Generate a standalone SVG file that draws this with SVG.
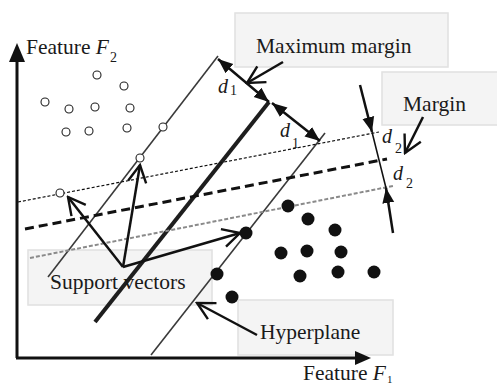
<svg xmlns="http://www.w3.org/2000/svg" width="497" height="386" viewBox="0 0 497 386">
<style>
.box{fill:#f4f4f4;stroke:#e0e0e0;stroke-width:1.5}
.lbl{font-family:"Liberation Serif","Times New Roman",serif;font-size:21.5px;fill:#1a1a1a}
.it{font-style:italic}
.sub{font-family:"Liberation Serif","Times New Roman",serif;font-size:14px;fill:#1a1a1a}
.sv{stroke:#3a3a3a;stroke-width:1.6;fill:none}
.open{fill:#fff;stroke:#222;stroke-width:1.1}
.dot{fill:#111}
.ann{stroke:#111;stroke-width:2.5;fill:none;marker-end:url(#openhead)}
.dim{stroke:#111;stroke-width:2.5;fill:none}
</style>
<defs>
<marker id="openhead" markerUnits="userSpaceOnUse" markerWidth="22" markerHeight="24" viewBox="-21 -12 23 24" refX="0" refY="0" orient="auto">
<path d="M-18,-9.5 L0,0 L-18,9.5" fill="none" stroke="#111" stroke-width="2.5"/>
</marker>
<marker id="fillhead" markerUnits="userSpaceOnUse" markerWidth="16" markerHeight="14" viewBox="-15 -7 16 14" refX="0" refY="0" orient="auto-start-reverse">
<path d="M-15,-6 L0,0 L-15,6 Z" fill="#111"/>
</marker>
</defs>
<rect width="497" height="386" fill="#fff"/>
<g id="label-boxes">
<rect class="box" x="235" y="13" width="213" height="54"/>
<rect class="box" x="382" y="72" width="122" height="53"/>
<rect class="box" x="28" y="250" width="184" height="55"/>
<rect class="box" x="238" y="300" width="155" height="55"/>
</g>
<g id="axes">
<line x1="17" y1="358" x2="17" y2="60" stroke="#111" stroke-width="3"/>
<polygon points="17,43 9,62 25,62" fill="#111"/>
<line x1="16" y1="358" x2="356" y2="358" stroke="#111" stroke-width="3"/>
<polygon points="371,358 355,351 355,365" fill="#111"/>
</g>
<g id="connectors">
<line class="sv" x1="218" y1="56" x2="48" y2="277"/>
<line x1="269" y1="102" x2="95" y2="322" stroke="#1e1e1e" stroke-width="4"/>
<line class="sv" x1="325" y1="133" x2="151" y2="355"/>
<line x1="18" y1="202" x2="379" y2="132" stroke="#111" stroke-width="1.2" stroke-dasharray="3 2"/>
<line x1="25" y1="229" x2="387" y2="159" stroke="#111" stroke-width="3" stroke-dasharray="9 5"/>
<line x1="30" y1="258" x2="393" y2="186" stroke="#8a8a8a" stroke-width="2" stroke-dasharray="4 2"/>
<line class="dim" x1="218" y1="59" x2="269" y2="102" marker-start="url(#fillhead)" marker-end="url(#fillhead)"/>
<line class="dim" x1="272" y1="103" x2="320" y2="141" marker-start="url(#fillhead)" marker-end="url(#fillhead)"/>
<line class="dim" x1="360" y1="85" x2="372" y2="132" marker-end="url(#fillhead)"/>
<line x1="372" y1="132" x2="386" y2="188" stroke="#111" stroke-width="1.6"/>
<line class="dim" x1="393" y1="233" x2="386" y2="188" marker-end="url(#fillhead)"/>
<line class="ann" x1="123" y1="267" x2="68" y2="197"/>
<line class="ann" x1="123" y1="267" x2="140" y2="165"/>
<line class="ann" x1="123" y1="267" x2="240" y2="233"/>
<line class="ann" x1="283" y1="62" x2="247" y2="83"/>
<line class="ann" x1="423" y1="117" x2="405" y2="153"/>
<line class="ann" x1="257" y1="335" x2="197" y2="303"/>
</g>
<g id="class-open">
<circle class="open" cx="97" cy="75" r="4"/>
<circle class="open" cx="124" cy="86" r="4"/>
<circle class="open" cx="45" cy="102" r="4"/>
<circle class="open" cx="69" cy="109" r="4"/>
<circle class="open" cx="95" cy="107" r="4"/>
<circle class="open" cx="130" cy="108" r="4"/>
<circle class="open" cx="66" cy="132" r="4"/>
<circle class="open" cx="89" cy="131" r="4"/>
<circle class="open" cx="127" cy="128" r="4"/>
<circle class="open" cx="163" cy="127" r="4"/>
<circle class="open" cx="140" cy="158" r="4"/>
<circle class="open" cx="60" cy="193" r="4"/>
</g>
<g id="class-filled">
<circle class="dot" cx="288" cy="206" r="6.5"/>
<circle class="dot" cx="308" cy="219" r="6.5"/>
<circle class="dot" cx="335" cy="230" r="6.5"/>
<circle class="dot" cx="246" cy="233" r="6.5"/>
<circle class="dot" cx="281" cy="253" r="6.5"/>
<circle class="dot" cx="307" cy="251" r="6.5"/>
<circle class="dot" cx="341" cy="252" r="6.5"/>
<circle class="dot" cx="217" cy="274" r="6.5"/>
<circle class="dot" cx="300" cy="276" r="6.5"/>
<circle class="dot" cx="338" cy="272" r="6.5"/>
<circle class="dot" cx="374" cy="272" r="6.5"/>
<circle class="dot" cx="232" cy="297" r="6.5"/>
</g>
<g id="labels">
<text class="lbl" x="26" y="54">Feature <tspan class="it">F</tspan></text>
<text class="sub" x="110" y="62">2</text>
<text class="lbl" x="303" y="380">Feature <tspan class="it">F</tspan></text>
<text class="sub" x="387" y="383" style="font-size:11px">1</text>
<text class="lbl" x="256" y="53">Maximum margin</text>
<text class="lbl" x="403" y="111">Margin</text>
<text class="lbl" x="50" y="289">Support vectors</text>
<text class="lbl" x="260" y="339">Hyperplane</text>
<text class="lbl it" x="218" y="93" style="font-size:20px">d</text>
<text class="sub" x="230" y="95">1</text>
<text class="lbl it" x="280" y="137" style="font-size:20px">d</text>
<text class="sub" x="292" y="148">1</text>
<text class="lbl it" x="382" y="143" style="font-size:20px">d</text>
<text class="sub" x="395" y="153">2</text>
<text class="lbl it" x="393" y="180" style="font-size:20px">d</text>
<text class="sub" x="406" y="188">2</text>
</g>
</svg>
